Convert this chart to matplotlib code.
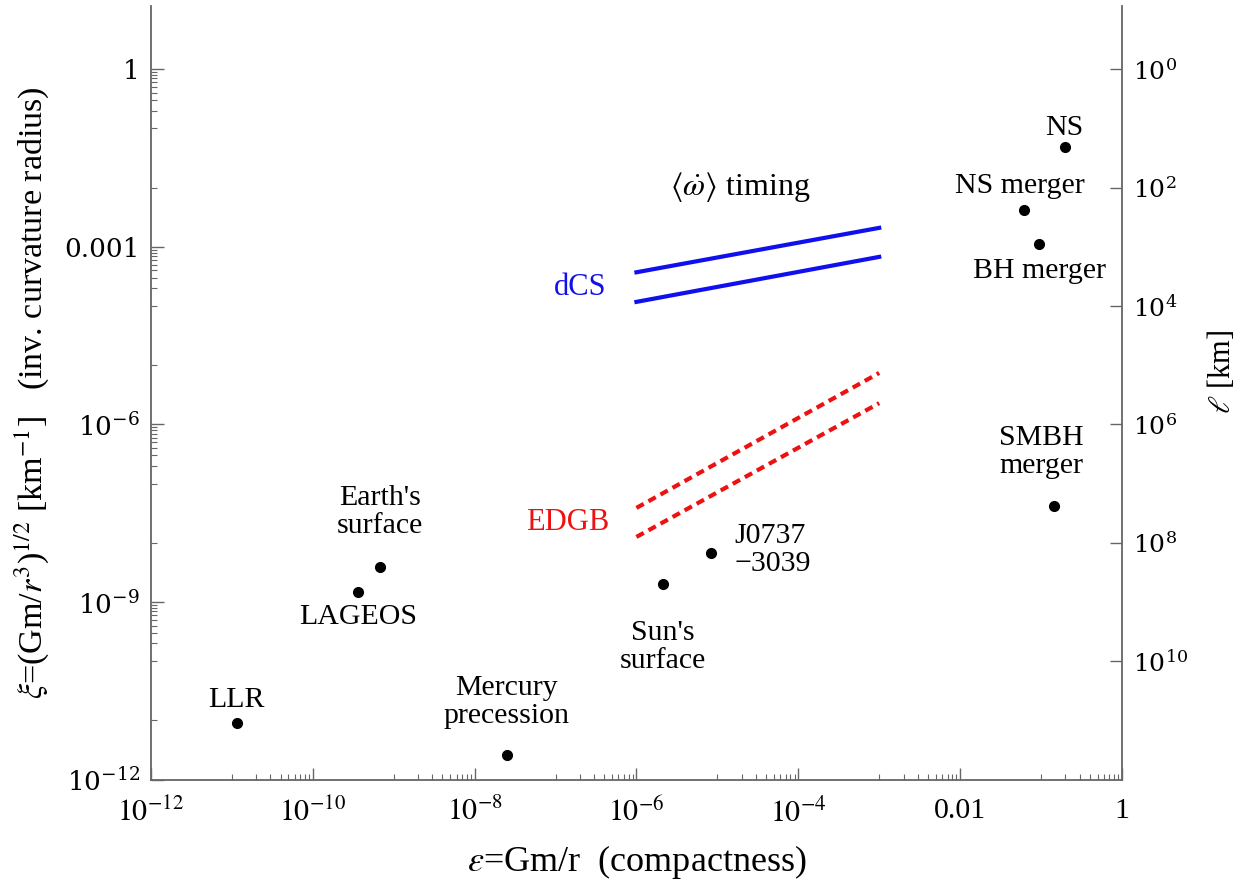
import numpy as np
import matplotlib.pyplot as plt
from matplotlib.ticker import FixedLocator, NullFormatter

plt.rcParams['font.family'] = ['Liberation Serif', 'DejaVu Serif']
plt.rcParams['mathtext.fontset'] = 'stix'

# Systems: compactness eps = Gm/r and curvature xi = (Gm/r^3)^(1/2) [1/km]
names = ['LLR', 'LAGEOS', "Earth's\nsurface", 'Mercury\nprecession', "Sun's\nsurface",
         'J0737\n\u22123039', 'SMBH\nmerger', 'NS', 'NS merger', 'BH merger']
eps = [1.15e-11, 3.6e-10, 6.8e-10, 2.5e-8, 2.1e-6, 8.3e-6, 1.45e-1, 1.95e-1, 6.2e-2, 9.5e-2]
xi = [9.0e-12, 1.5e-9, 3.9e-9, 2.6e-12, 2.0e-9, 6.8e-9, 4.2e-8, 4.8e-2, 4.2e-3, 1.1e-3]

# label offsets (points) relative to each dot
offsets = [(0, 17), (0, -18), (0, 40), (0, 38), (0, -45),
           (17, 2), (-9, 39), (0, 14), (-3, 17), (0, -19)]
aligns = ['center'] * 5 + ['left'] + ['center'] * 4

# <omega-dot> timing bounds
band_eps = [1e-6, 1e-3]
dcs_upper = [10**-3.43, 10**-2.68]
dcs_lower = [10**-3.93, 10**-3.17]
edgb_upper = [10**-7.41, 10**-5.13]
edgb_lower = [10**-7.90, 10**-5.64]

x_major = [1e-12, 1e-10, 1e-8, 1e-6, 1e-4, 1e-2, 1]
x_labels = [r'$10^{-12}$', r'$10^{-10}$', r'$10^{-8}$', r'$10^{-6}$', r'$10^{-4}$', '0.01', '1']
y_major = [1e-12, 1e-9, 1e-6, 1e-3, 1]
y_labels = [r'$10^{-12}$', r'$10^{-9}$', r'$10^{-6}$', '0.001', '1']
l_major = [1, 1e2, 1e4, 1e6, 1e8, 1e10]
l_labels = [r'$10^{0}$', r'$10^{2}$', r'$10^{4}$', r'$10^{6}$', r'$10^{8}$', r'$10^{10}$']

blue = '#1010ee'
red = '#ee1111'
grey = '#666666'

fig = plt.figure(figsize=(12.37, 8.82), dpi=100)
ax = fig.add_axes([0.122, 0.116, 0.785, 0.877])
ax.set_xscale('log')
ax.set_yscale('log')
ax.set_xlim(1e-12, 1)
ax.set_ylim(1e-12, 11.6)

ax.plot(band_eps, dcs_upper, color=blue, lw=3)
ax.plot(band_eps, dcs_lower, color=blue, lw=3)
ax.plot(band_eps, edgb_upper, color=red, lw=3, ls=(0, (2, 1.3)))
ax.plot(band_eps, edgb_lower, color=red, lw=3, ls=(0, (2, 1.3)))

ax.plot(eps, xi, 'o', color='black', ms=7, ls='none')
for n, x, y, off, ha in zip(names, eps, xi, offsets, aligns):
    ax.annotate(n, (x, y), xytext=off, textcoords='offset points', ha=ha, va='center',
                fontsize=21.5, linespacing=1.1, multialignment='left' if ha == 'left' else 'center')

ax.text(10**-4.72, 10**-1.99, r'$\langle\dot{\omega}\rangle$ timing', ha='center', va='center', fontsize=23)
ax.text(10**-6.37, 10**-3.68, 'dCS', ha='right', va='center', fontsize=22, color=blue)
ax.text(10**-6.33, 10**-7.65, 'EDGB', ha='right', va='center', fontsize=22, color=red)

# ticks: majors labelled, decade and sub-decade minors
x_minor = [10.0**k for k in range(-11, 0, 2)]
x_minor += [m * 10.0**k for k in range(-11, 0, 2) for m in range(2, 10)]
y_minor = [10.0**k for k in range(-11, 0) if k % 3 != 0]
y_minor += [m * 10.0**k for k in range(-10, 1, 3) for m in range(2, 10)]
ax.xaxis.set_major_locator(FixedLocator(x_major))
ax.set_xticklabels(x_labels)
ax.xaxis.set_minor_locator(FixedLocator(x_minor))
ax.xaxis.set_minor_formatter(NullFormatter())
ax.yaxis.set_major_locator(FixedLocator(y_major))
ax.set_yticklabels(y_labels)
ax.yaxis.set_minor_locator(FixedLocator(y_minor))
ax.yaxis.set_minor_formatter(NullFormatter())
ax.tick_params(which='major', direction='in', length=9, width=1, color=grey)
ax.tick_params(axis='x', labelsize=21.5, pad=13)
ax.tick_params(axis='y', labelsize=19, pad=8)
ax.tick_params(which='minor', direction='in', length=4, width=0.8, color=grey)
for t in ax.get_yticklabels():
    t.set_fontfamily('DejaVu Serif')
    t.set_math_fontfamily('dejavuserif')
ax.spines['top'].set_visible(False)
for s in ['left', 'right', 'bottom']:
    ax.spines[s].set_color(grey)
    ax.spines[s].set_linewidth(1.3)

ax.set_xlabel(r'$\varepsilon$=Gm/r  (compactness)', fontsize=26, labelpad=11)
ax.set_ylabel(r'$\xi$=(Gm/$r^3$)$^{1/2}$ [km$^{-1}$]   (inv. curvature radius)',
              fontsize=24.5, labelpad=9)

# length scale ell = 1/xi on the right
ax2 = ax.twinx()
ax2.set_yscale('log')
ax2.set_ylim(1e12, 1 / 11.6)
ax2.yaxis.set_major_locator(FixedLocator(l_major))
ax2.set_yticklabels(l_labels)
ax2.yaxis.set_minor_locator(FixedLocator([]))
ax2.tick_params(direction='in', length=9, width=1, color=grey, labelsize=18, pad=8)
for t in ax2.get_yticklabels():
    t.set_fontfamily('DejaVu Serif')
    t.set_math_fontfamily('dejavuserif')
for s in ax2.spines.values():
    s.set_visible(False)
fig.text(1221 / 1237, 1 - 372 / 882, r'$\ell$ [km]', rotation=90, ha='center', va='center', fontsize=22)

fig.savefig('out.png', dpi=100)
